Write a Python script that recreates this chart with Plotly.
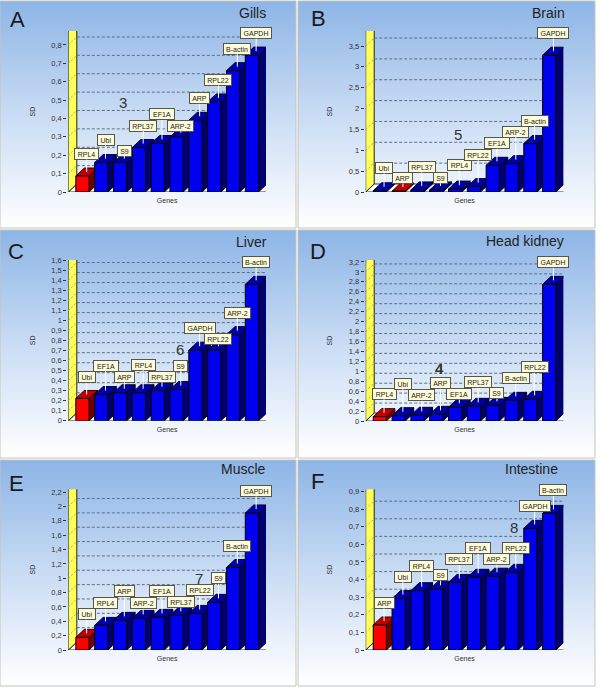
import plotly.graph_objects as go

# gene order and SD values per tissue
tissues = ["Gills", "Brain", "Liver", "Head kidney", "Muscle", "Intestine"]
letters = ["A", "B", "C", "D", "E", "F"]
ranks = ["3", "5", "6", "4", "7", "8"]

genes_a = ["RPL4", "Ubi", "S9", "RPL37", "EF1A", "ARP-2", "ARP", "RPL22", "B-actin", "GAPDH"]
genes_b = ["Ubi", "ARP", "RPL37", "S9", "RPL4", "RPL22", "EF1A", "ARP-2", "B-actin", "GAPDH"]
genes_c = ["Ubi", "EF1A", "ARP", "RPL4", "RPL37", "S9", "GAPDH", "RPL22", "ARP-2", "B-actin"]
genes_d = ["RPL4", "Ubi", "ARP-2", "ARP", "EF1A", "RPL37", "S9", "B-actin", "RPL22", "GAPDH"]
genes_e = ["Ubi", "RPL4", "ARP", "ARP-2", "EF1A", "RPL37", "RPL22", "S9", "B-actin", "GAPDH"]
genes_f = ["ARP", "Ubi", "RPL4", "S9", "RPL37", "EF1A", "ARP-2", "RPL22", "GAPDH", "B-actin"]

sd_a = [0.087, 0.16, 0.16, 0.242, 0.264, 0.30, 0.39, 0.49, 0.66, 0.745]
sd_b = [0.03, 0.02, 0.05, 0.05, 0.07, 0.13, 0.64, 0.68, 1.16, 3.28]
sd_c = [0.223, 0.262, 0.28, 0.28, 0.30, 0.312, 0.705, 0.705, 0.86, 1.362]
sd_d = [0.087, 0.107, 0.114, 0.134, 0.275, 0.295, 0.315, 0.416, 0.436, 2.75]
sd_e = [0.176, 0.343, 0.413, 0.44, 0.455, 0.483, 0.51, 0.664, 1.15, 1.91]
sd_f = [0.142, 0.292, 0.337, 0.345, 0.384, 0.413, 0.419, 0.441, 0.691, 0.776]

# how far each callout sits above its bar, in pixels
lift_a = [18, 19, 8, 18, 25, 7, 18, 18, 18, 18]
lift_b = [19, 9, 19, 8, 20, 28, 18, 28, 19, 18]
lift_c = [17, 25, 12, 24, 10, 20, 18, 7, 18, 18]
lift_d = [19, 28, 16, 27, 9, 20, 8, 18, 28, 18]
lift_e = [19, 18, 25, 11, 22, 9, 19, 20, 18, 18]
lift_f = [18, 18, 21, 10, 19, 25, 13, 20, 18, 19]

all_genes = [genes_a, genes_b, genes_c, genes_d, genes_e, genes_f]
all_sd = [sd_a, sd_b, sd_c, sd_d, sd_e, sd_f]
all_lift = [lift_a, lift_b, lift_c, lift_d, lift_e, lift_f]

y_max = [0.876, 3.86, 1.605, 3.24, 2.24, 0.913]
y_step = [0.1, 0.5, 0.1, 0.2, 0.2, 0.1]
red_bar = [0, 1, 0, 0, 0, 0]

# callout box widths in pixels
box_w = {"RPL4": 25, "Ubi": 18, "S9": 15, "RPL37": 28, "EF1A": 26, "ARP-2": 27,
         "ARP": 21, "RPL22": 28, "B-actin": 28, "GAPDH": 32}

# page layout in pixels
W, H = 600, 691
card_left = [0, 298, 0, 298, 0, 298]
card_right = [296, 595, 296, 595, 296, 595]
card_top = [1, 1, 230, 230, 460, 460]
card_bottom = [228, 228, 458, 458, 686, 686]
plot_left = [68.3, 365.7, 68.3, 365.7, 68.3, 365.7]
plot_right = [266, 563.3, 266, 563.3, 266, 563.3]
plot_top = [31, 31, 260, 260, 489.3, 489.3]
plot_bottom = [192, 192, 420.8, 421, 650, 650]
letter_pos = [(17, 19), (318, 18), (16, 251), (318, 251), (16, 483), (317, 481)]
title_pos = [(268, 13), (567, 13), (269, 242), (566, 241), (268, 469), (560, 469)]
rank_pos = [(123, 102), (458, 134), (180, 349), (439, 368), (199, 578), (514, 527)]

DEPTH_X, DEPTH_Y = 8.5, 8
X_MIN, X_MAX = -0.75, 9.75
BAR_W = 0.70
FONT = "Liberation Sans"
TEXT = "#333333"

fig = go.Figure()


def poly(xs, ys, color, xa, ya, line="#000000", z=1):
    return go.Scatter(x=xs + xs[:1], y=ys + ys[:1], mode="lines", fill="toself", fillcolor=color,
                      line=dict(color=line, width=1), xaxis=xa, yaxis=ya, cliponaxis=False,
                      showlegend=False, hoverinfo="skip", zorder=z)


def text(x, y, s, size, color=TEXT, anchor="center", weight="normal"):
    fig.add_annotation(x=x, y=y, xref="x", yref="y", text=s, showarrow=False, xanchor=anchor, yanchor="middle",
                       font=dict(family=FONT, size=size, color=color, weight=weight))


# card backgrounds on a page sized pair of axes
for i in range(6):
    l, r, t, b = card_left[i], card_right[i], card_top[i], card_bottom[i]
    fig.add_trace(go.Scatter(x=[l, r, r, l, l], y=[t, t, b, b, t], mode="lines", fill="toself",
                             fillgradient=dict(type="vertical",
                                               colorscale=[[0, "#ffffff"], [0.5, "#c9dcf4"], [1, "#8db5e6"]]),
                             line=dict(color="#c4c4bc", width=1), showlegend=False, hoverinfo="skip"))
    text(*letter_pos[i], letters[i], 22, "#1a1a1a")
    text(title_pos[i][0], title_pos[i][1], tissues[i], 14, "#222222", "right")
    text(*rank_pos[i], ranks[i], 15, weight="bold" if ranks[i] == "4" else "normal")

layout_axes = dict(
    xaxis=dict(domain=[0, 1], range=[0, W], visible=False, fixedrange=True),
    yaxis=dict(domain=[0, 1], range=[H, 0], visible=False, fixedrange=True),
)

for i in range(6):
    xa, ya = f"x{i + 2}", f"y{i + 2}"
    genes, sd, lift = all_genes[i], all_sd[i], all_lift[i]
    px_x = (plot_right[i] - plot_left[i]) / (X_MAX - X_MIN)
    px_y = (plot_bottom[i] - plot_top[i]) / y_max[i]
    dx, dy = DEPTH_X / px_x, DEPTH_Y / px_y
    top = y_max[i]

    layout_axes[f"xaxis{i + 2}"] = dict(
        domain=[plot_left[i] / W, plot_right[i] / W], range=[X_MIN, X_MAX], anchor=ya,
        showgrid=False, zeroline=False, showticklabels=False, ticks="",
        showline=True, linecolor="#000000", linewidth=2, fixedrange=True,
        title=dict(text="Genes", font=dict(family=FONT, size=7, color=TEXT), standoff=5))
    layout_axes[f"yaxis{i + 2}"] = dict(
        domain=[1 - plot_bottom[i] / H, 1 - plot_top[i] / H], range=[0, top], anchor=xa,
        tick0=0, dtick=y_step[i], showgrid=False, zeroline=False,
        showline=True, linecolor="#000000", linewidth=2, fixedrange=True,
        ticks="outside", ticklen=3, tickcolor="#333333", tickwidth=1,
        tickfont=dict(family=FONT, size=7.5, color=TEXT),
        title=dict(text="SD", font=dict(family=FONT, size=7, color=TEXT), standoff=15))

    # floor, left wall, back wall outline
    fig.add_trace(poly([X_MIN, X_MIN + dx, X_MAX + dx, X_MAX], [0, dy, dy, 0], "#ffffff", xa, ya, "#333333"))
    fig.add_trace(poly([X_MIN, X_MIN + dx, X_MIN + dx, X_MIN], [0, dy, top + dy, top], "#ffff55", xa, ya, "#222222"))
    fig.add_trace(go.Scatter(x=[X_MIN + dx, X_MAX + dx, X_MAX + dx], y=[top + dy, top + dy, dy], mode="lines",
                             line=dict(color="#222222", width=1), xaxis=xa, yaxis=ya, cliponaxis=False,
                             showlegend=False, hoverinfo="skip", zorder=1))

    # dashed grid on the back wall, pale dashes across the yellow wall
    grid_x, grid_y, wall_x, wall_y = [], [], [], []
    for k in range(1, int(top / y_step[i]) + 1):
        v = k * y_step[i]
        grid_x += [X_MIN + dx, X_MAX + dx, None]
        grid_y += [v + dy, v + dy, None]
        wall_x += [X_MIN, X_MIN + dx, None]
        wall_y += [v, v + dy, None]
    fig.add_trace(go.Scatter(x=grid_x, y=grid_y, mode="lines", line=dict(color="#5f6f86", width=1, dash="3px,2px"),
                             xaxis=xa, yaxis=ya, cliponaxis=False, showlegend=False, hoverinfo="skip", zorder=1))
    fig.add_trace(go.Scatter(x=wall_x, y=wall_y, mode="lines", line=dict(color="#a8a870", width=1, dash="2px,2px"),
                             xaxis=xa, yaxis=ya, cliponaxis=False, showlegend=False, hoverinfo="skip", zorder=1))

    # top and side faces, left to right so taller bars sit over the shorter ones
    for j, v in enumerate(sd):
        a, b = j - BAR_W / 2, j + BAR_W / 2
        if j == red_bar[i]:
            side_c, top_c, edge = "#6e0000", "#c00000", "#300000"
        else:
            side_c, top_c, edge = "#00006e", "#0000a8", "#000033"
        fig.add_trace(poly([b, b, b + dx, b + dx], [0, v, v + dy, dy], side_c, xa, ya, edge))
        fig.add_trace(poly([a, b, b + dx, a + dx], [v, v, v + dy, v + dy], top_c, xa, ya, edge))

    # the front faces are the real bars
    colors = ["#ff0000" if j == red_bar[i] else "#0000f0" for j in range(10)]
    fig.add_trace(go.Bar(x=list(range(10)), y=sd, width=BAR_W, customdata=genes,
                         marker=dict(color=colors, line=dict(color="#000000", width=1)),
                         xaxis=xa, yaxis=ya, showlegend=False, zorder=2,
                         hovertemplate="%{customdata}: %{y}<extra></extra>"))

    for j, g in enumerate(genes):
        fig.add_annotation(x=j + dx / 2, y=sd[j] + dy / 2, xref=xa, yref=ya, text=g,
                           ax=0, ay=-lift[j], axref="pixel", ayref="pixel",
                           showarrow=True, arrowhead=0, arrowwidth=1, arrowcolor="#ffffff", standoff=0,
                           width=box_w[g] - 4, height=8, align="center", valign="middle",
                           bgcolor="#fdfbd8", bordercolor="#555555", borderwidth=1, borderpad=1,
                           font=dict(family=FONT, size=7, color="#222222"))

# autoexpand off, the card axis otherwise gets squeezed by a few pixels
fig.update_layout(width=W, height=H, autosize=False,
                  margin=dict(l=0, r=0, t=0, b=0, autoexpand=False),
                  paper_bgcolor="#ffffff", plot_bgcolor="rgba(0,0,0,0)", separators=", ",
                  barmode="overlay", showlegend=False, **layout_axes)

fig.write_html("out.html", config=dict(displayModeBar=False), post_script="document.body.style.margin='0';")
